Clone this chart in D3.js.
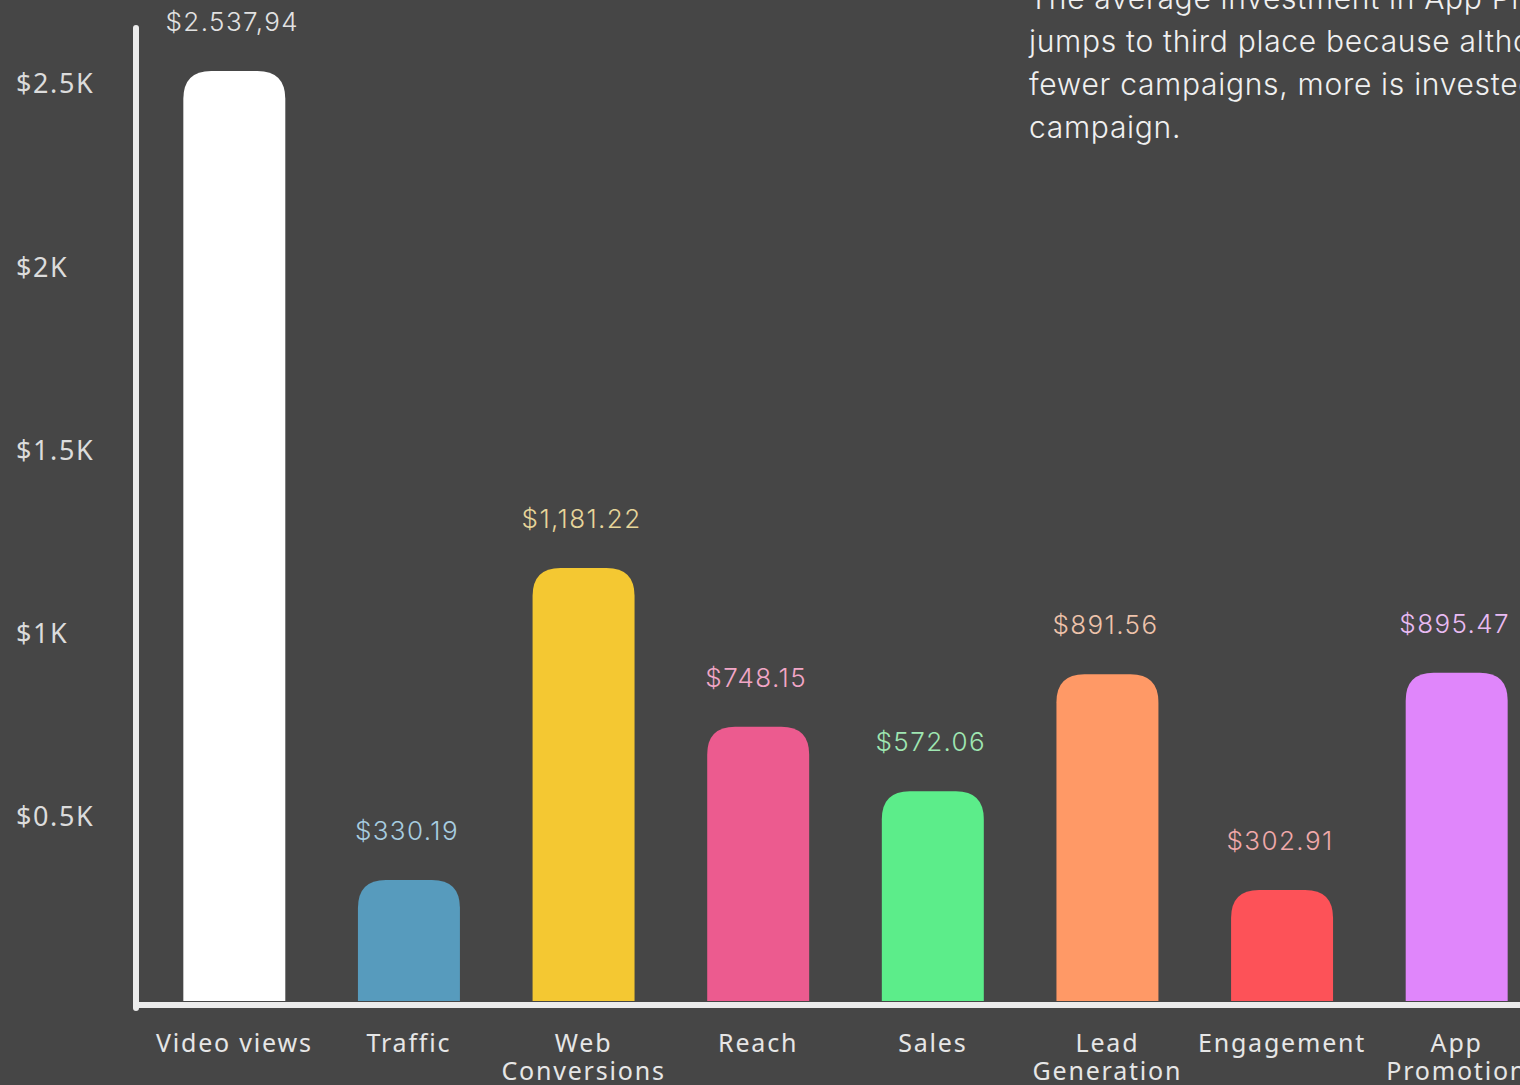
<!DOCTYPE html>
<html>
<head>
<meta charset="utf-8">
<script src="https://cdn.jsdelivr.net/npm/d3@7"></script>
<style>
  html, body { margin: 0; padding: 0; background: #464646; overflow: hidden; }
  #chart { width: 1520px; height: 1085px; }
</style>
</head>
<body>
<div id="chart"></div>
<script>
// chart data
const categories = ['Video views', 'Traffic', 'Web Conversions', 'Reach', 'Sales', 'Lead Generation', 'Engagement', 'App Promotion'];
const categoryLines = [['Video views'], ['Traffic'], ['Web', 'Conversions'], ['Reach'], ['Sales'], ['Lead', 'Generation'], ['Engagement'], ['App', 'Promotion']];
const values = [2537.94, 330.19, 1181.22, 748.15, 572.06, 891.56, 302.91, 895.47];
const valueLabels = ['$2.537,94', '$330.19', '$1,181.22', '$748.15', '$572.06', '$891.56', '$302.91', '$895.47'];
const tickValues = [500, 1000, 1500, 2000, 2500];
const tickLabels = ['$0.5K', '$1K', '$1.5K', '$2K', '$2.5K'];
const barColors = ['#ffffff', '#579bbd', '#f4c832', '#ec5b8f', '#5ced8a', '#ff9966', '#fd5258', '#e086fb'];
const labelColors = ['#e2e2e2', '#a8cde0', '#e6d59a', '#f2a6c6', '#9fe6b2', '#eec3ab', '#f0a9aa', '#e9bbf3'];
const noteLines = [
    'The average investment in App Promotion',
    'jumps to third place because although there are',
    'fewer campaigns, more is invested per',
    'campaign.'
];

const svgWidth = 1520;
const svgHeight = 1085;

const svg = d3.select('#chart').append('svg')
    .attr('width', svgWidth)
    .attr('height', svgHeight);

svg.append('rect')
    .attr('width', svgWidth)
    .attr('height', svgHeight)
    .attr('fill', '#464646');

// scales
var x = d3.scaleBand()
    .domain(categories)
    .range([147, 1544])
    .paddingInner(0.416)
    .paddingOuter(0.208);

var y = d3.scaleLinear()
    .domain([0, 2655])
    .range([1001, 28]);

// bar with rounded top corners only
function topRounded(x0, y0, w, h, r) {
    r = Math.min(r, h, w / 2);
    return 'M' + x0 + ',' + (y0 + h) +
        'V' + (y0 + r) +
        'Q' + x0 + ',' + y0 + ' ' + (x0 + r) + ',' + y0 +
        'H' + (x0 + w - r) +
        'Q' + (x0 + w) + ',' + y0 + ' ' + (x0 + w) + ',' + (y0 + r) +
        'V' + (y0 + h) + 'Z';
}

svg.append('g').selectAll('path')
    .data(values)
    .enter().append('path')
    .attr('d', (d, i) => topRounded(x(categories[i]), y(d), x.bandwidth(), y(0) - y(d), 28))
    .attr('fill', (d, i) => barColors[i]);

// value labels
svg.append('g').selectAll('text')
    .data(values)
    .enter().append('text')
    .attr('x', (d, i) => x(categories[i]) + x.bandwidth() / 2 - 2)
    .attr('y', d => y(d) - 40)
    .attr('text-anchor', 'middle')
    .attr('font-family', 'Inter, sans-serif')
    .attr('font-weight', 300)
    .attr('font-size', 26)
    .attr('letter-spacing', '1.4px')
    .attr('fill', (d, i) => labelColors[i])
    .text((d, i) => valueLabels[i]);

// y axis
var yAxis = svg.append('g')
    .attr('transform', 'translate(136,0)')
    .call(d3.axisLeft(y).tickValues(tickValues).tickSize(0)
        .tickFormat((d, i) => tickLabels[i]));

yAxis.select('.domain').remove();
yAxis.selectAll('text')
    .attr('x', -120)
    .attr('dy', '0.3em')
    .attr('text-anchor', 'start')
    .attr('font-family', '"Noto Sans", sans-serif')
    .attr('font-size', 27)
    .attr('letter-spacing', '1.6px')
    .attr('fill', '#dcdcdc');

svg.append('line')
    .attr('x1', 136).attr('x2', 136)
    .attr('y1', y.range()[1]).attr('y2', 1008)
    .attr('stroke', '#ececec')
    .attr('stroke-width', 6)
    .attr('stroke-linecap', 'round');

// x axis
svg.append('line')
    .attr('x1', 133).attr('x2', svgWidth)
    .attr('y1', 1005).attr('y2', 1005)
    .attr('stroke', '#ececec')
    .attr('stroke-width', 6);

var xLabels = svg.append('g').selectAll('text')
    .data(categories)
    .enter().append('text')
    .attr('x', d => x(d) + x.bandwidth() / 2)
    .attr('y', 1052)
    .attr('text-anchor', 'middle')
    .attr('font-family', '"Noto Sans", sans-serif')
    .attr('font-size', 25)
    .attr('letter-spacing', '1.8px')
    .attr('fill', '#e6e6e6');

xLabels.selectAll('tspan')
    .data((d, i) => categoryLines[i])
    .enter().append('tspan')
    .attr('x', function () { return this.parentNode.getAttribute('x'); })
    .attr('dy', (d, i) => i === 0 ? 0 : 28)
    .text(d => d);

// annotation
svg.append('g').selectAll('text')
    .data(noteLines)
    .enter().append('text')
    .attr('x', 1029)
    .attr('y', (d, i) => 9 + i * 43)
    .attr('font-family', 'Inter, sans-serif')
    .attr('font-weight', 300)
    .attr('font-size', 30)
    .attr('letter-spacing', '0.7px')
    .attr('fill', '#f0f0f0')
    .text(d => d);
</script>
</body>
</html>
